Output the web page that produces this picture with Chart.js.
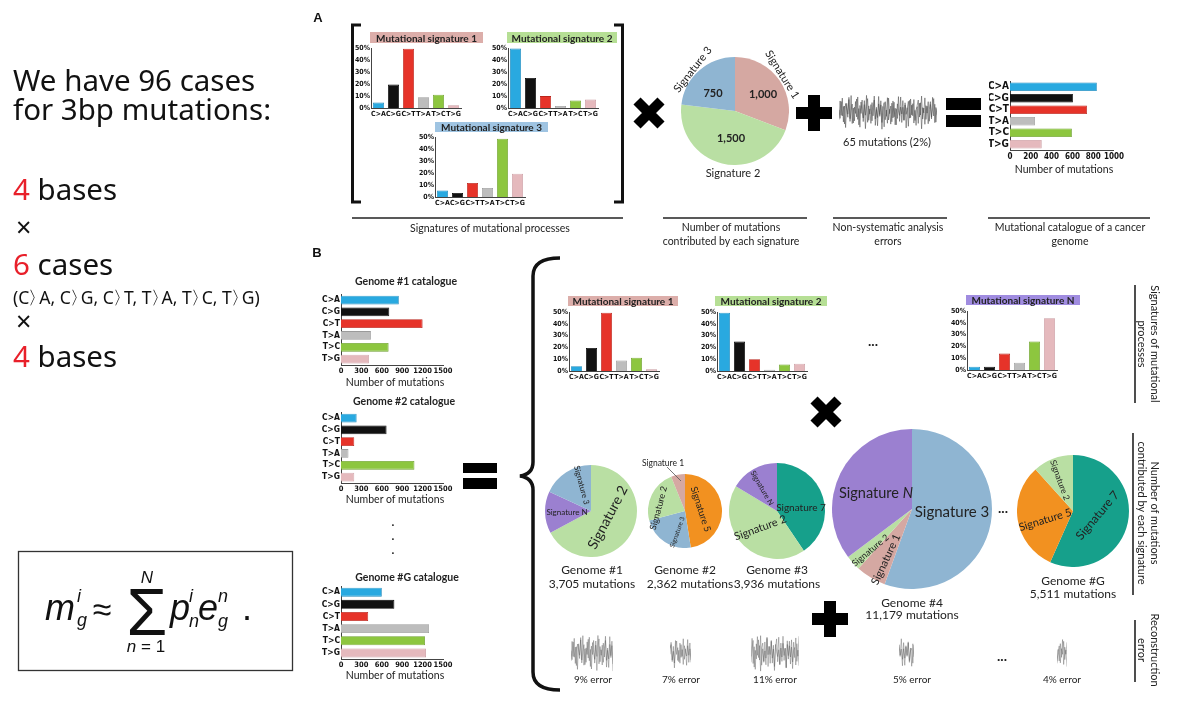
<!DOCTYPE html>
<html><head><meta charset="utf-8">
<script src="https://cdn.jsdelivr.net/npm/chart.js@4.4.1/dist/chart.umd.min.js"></script>
<style>
html,body{margin:0;padding:0;background:#fff;}
#stage{position:relative;width:1178px;height:707px;overflow:hidden;background:#fff;}
#stage canvas{position:absolute;}
#ov{position:absolute;left:0;top:0;width:1178px;height:707px;pointer-events:none;}
</style></head>
<body><div id="stage"></div>
<script>
// ---------------- DATA ----------------
const mutationTypes = ['C>A','C>G','C>T','T>A','T>C','T>G'];
const typeColors  = ['#29a9e0','#111111','#e63329','#bdbdbd','#8dc63f','#e5b9bd'];
const typeBorders = ['#1c88bb','#000000','#b8241c','#9a9a9a','#6b9e2b','#c99aa0'];
const percentTicks = ['0%','10%','20%','30%','40%','50%'];
const countTicksA = ['0','200','400','600','800','1000'];
const countTicksB = ['0','300','600','900','1200','1500'];

// Panel A signatures (% of mutations)
const sigA1 = [4.5, 19.5, 49.4, 9, 11, 2.3];
const sigA2 = [49.5, 25, 9.9, 1.7, 6.2, 7];
const sigA3 = [5.5, 3.3, 11.7, 7.5, 48.6, 19.4];
// Panel A exposures
const pieALabels = ['Signature 1','Signature 2','Signature 3'];
const pieAValues = [1000, 1500, 750];
// Panel A catalogue
const catalogueA = [835, 605, 740, 240, 595, 305];

// Panel B catalogues
const genome1Catalogue = [850, 710, 1200, 440, 700, 410];
const genome2Catalogue = [230, 670, 195, 110, 1080, 195];
const genomeGCatalogue = [600, 785, 400, 1295, 1235, 1250];

// Panel B signatures
const sigB1 = [4, 19.5, 49.4, 9, 11.3, 1.4];
const sigB2 = [49.4, 24.9, 9.9, 1.1, 5.6, 6.2];
const sigBN = [2.8, 2.8, 13.9, 6.1, 24.2, 43.9];

// Panel B exposures (clockwise from 12 o'clock)
const g1Labels = ['Signature 2','Signature N','Signature 3'];
const g1Values = [2490, 545, 670];
const g2Labels = ['Signature 5','Signature 3','Signature 2','Signature 1'];
const g2Values = [1122, 551, 545, 144];
const g3Labels = ['Signature 7','Signature 2','Signature N'];
const g3Values = [1596, 1694, 646];
const g4Labels = ['Signature 3','Signature 1','Signature 2','Signature N'];
const g4Values = [6211, 683, 342, 3943];
const gGLabels = ['Signature 7','Signature 5','Signature 2'];
const gGValues = [3123, 1745, 643];

// noise traces (read by eye, approximate)
const noiseA = [0.12,-0.35,0.58,-0.22,0.31,-0.66,0.47,0.18,-0.29,0.81,-0.52,0.09,0.44,-0.61,0.27,-0.08,0.72,-0.41,0.19,-0.84,0.55,0.02,-0.33,0.63,-0.18,0.92,-0.57,0.34,-0.12,0.41,-0.49,0.23,0.66,-0.74,0.14,-0.31,0.86,-0.24,0.39,-0.95,0.28,0.52,-0.43,0.11,-0.62,0.77,-0.09,0.33,-0.54,0.61,-0.27,0.21,-0.71,0.45,0.07,-0.19,0.83,-0.58,0.26,-0.44,0.51,-0.13,0.24,-0.79,0.64,-0.32,0.38,-0.21,0.69,-0.47,0.13,0.29,-0.63,0.49,-0.17,0.88,-0.39,0.22,-0.68,0.35,-0.06,0.57,-0.51,0.42,-0.28,0.16,0.74,-0.59,0.25,-0.15];
const noiseB = [-0.42,0.61,-0.18,0.77,-0.55,0.33,-0.86,0.48,-0.12,0.69,-0.37,0.91,-0.64,0.22,-0.49,0.58,-0.27,0.83,-0.71,0.36,-0.08,0.66,-0.53,0.41,-0.92,0.29,0.74,-0.46,0.17,-0.63,0.52,-0.21,0.88,-0.39,0.26,-0.76,0.45,-0.14,0.62,-0.58,0.31,-0.82,0.57,-0.24,0.79,-0.44,0.15,-0.67,0.49,-0.33,0.54,-0.71,0.18,-0.36,0.85,-0.52,0.27,-0.11,0.63,-0.47,0.39,-0.88,0.21,0.59,-0.34,0.72,-0.16,0.46,-0.61,0.09,-0.74,0.37,0.66,-0.28,0.51,-0.93,0.24,-0.05,0.78,-0.41,0.32,-0.65,0.14,0.57,-0.38,0.81,-0.22,0.43,-0.56,0.19];

const exposureColors = {
  'Signature 1':'#d5a8a2','Signature 2':'#b9dfa3','Signature 3':'#8fb5d2',
  'Signature 5':'#f29120','Signature 7':'#16a08b','Signature N':'#9b80d0'
};

// ---------------- HELPERS ----------------
const stage = document.getElementById('stage');
const NARROW = "'Liberation Sans Narrow','DejaVu Sans Condensed',sans-serif";
const ARIAL = "'Liberation Sans',Arial,sans-serif";
function canvasAt(x,y,w,h){
  const c=document.createElement('canvas');
  c.width=w;c.height=h;c.style.left=x+'px';c.style.top=y+'px';c.style.width=w+'px';c.style.height=h+'px';
  stage.appendChild(c);return c;
}
const baseOpts = {responsive:false,animation:false,events:[],plugins:{legend:{display:false},tooltip:{enabled:false}}};

function sigChart(values, axisX, top, bottom){
  const yW=17, xH=11, padT=6, padR=10, plotW=90, plotH=bottom-top;
  const c = canvasAt(axisX-yW, top-padT, yW+plotW+padR, padT+plotH+xH);
  new Chart(c,{type:'bar',
    data:{labels:mutationTypes,datasets:[{data:values,backgroundColor:typeColors,borderColor:typeBorders,borderWidth:0.8,barPercentage:0.74,categoryPercentage:1}]},
    options:{...baseOpts,layout:{padding:{top:padT,right:padR,left:0,bottom:0}},
      scales:{
        x:{grid:{display:false,drawTicks:false},border:{display:true,color:'#444',width:1},
           ticks:{autoSkip:false,maxRotation:0,minRotation:0,padding:2,color:'#111',font:{family:NARROW,size:7,weight:'bold'}},
           afterFit(s){s.height=xH;}},
        y:{min:0,max:50,grid:{display:false,drawTicks:false},border:{display:true,color:'#444',width:1},
           ticks:{autoSkip:false,stepSize:10,padding:1,color:'#111',font:{family:NARROW,size:7,weight:'bold'},callback:(v,i)=>percentTicks[i]},
           afterFit(s){s.width=yW;}}
      }}});
}

function catChart(values, axisX, top, bottom, plotW, max, step, tickLabels, fs, xfs, yW){
  const xH=12, padT=1, padR=12, plotH=bottom-top;
  const c = canvasAt(axisX-yW, top-padT, yW+plotW+padR, padT+plotH+xH);
  new Chart(c,{type:'bar',
    data:{labels:mutationTypes,datasets:[{data:values,backgroundColor:typeColors,borderColor:typeBorders,borderWidth:0.8,barPercentage:0.74,categoryPercentage:1}]},
    options:{...baseOpts,indexAxis:'y',layout:{padding:{top:padT,right:padR,left:0,bottom:0}},
      scales:{
        y:{grid:{display:false,drawTicks:false},border:{display:true,color:'#444',width:1},
           ticks:{autoSkip:false,padding:1,color:'#111',font:{family:NARROW,size:fs,weight:'bold'}},
           afterFit(s){s.width=yW;}},
        x:{min:0,max:max,grid:{display:false,drawTicks:false},border:{display:true,color:'#444',width:1},
           ticks:{autoSkip:false,maxRotation:0,minRotation:0,stepSize:step,padding:2,color:'#111',font:{family:NARROW,size:xfs,weight:'bold'},callback:(v,i)=>tickLabels[i]},
           afterFit(s){s.height=xH;}}
      }}});
}

function pieChart(labels, values, cx, cy, r){
  const c = canvasAt(cx-r, cy-r, 2*r, 2*r);
  new Chart(c,{type:'pie',
    data:{labels:labels,datasets:[{data:values,backgroundColor:labels.map(l=>exposureColors[l]),borderWidth:0}]},
    options:{...baseOpts,layout:{padding:0}}});
}

function noiseChart(traces, x, y, w, h, color, lw){
  const c = canvasAt(x,y,w,h);
  new Chart(c,{type:'line',
    data:{labels:traces[0].map((_,i)=>i),datasets:traces.map(t=>({data:t,borderColor:color,borderWidth:lw,pointRadius:0,tension:0}))},
    options:{...baseOpts,layout:{padding:0},scales:{x:{display:false},y:{display:false,min:-1.05,max:1.05}}}});
}

// ---------------- CHARTS ----------------
sigChart(sigA1, 371, 48, 108);
sigChart(sigA2, 508, 48, 108);
sigChart(sigA3, 435, 137, 197);
pieChart(pieALabels, pieAValues, 735, 111, 54);
noiseChart([noiseA, noiseB], 839, 93, 98, 38, 'rgba(70,70,70,0.75)', 0.7);
catChart(catalogueA, 1010, 75, 150, 104, 1000, 200, countTicksA, 10, 8, 21);

catChart(genome1Catalogue, 341, 289, 365, 102, 1500, 300, countTicksB, 8.5, 7.5, 19);
catChart(genome2Catalogue, 341, 407, 483, 102, 1500, 300, countTicksB, 8.5, 7.5, 19);
catChart(genomeGCatalogue, 341, 581, 659, 102, 1500, 300, countTicksB, 8.5, 7.5, 19);

sigChart(sigB1, 569, 312, 371);
sigChart(sigB2, 717, 312, 371);
sigChart(sigBN, 967, 311, 370);

pieChart(g1Labels, g1Values, 591, 511, 46);
pieChart(g2Labels, g2Values, 685, 511, 37);
pieChart(g3Labels, g3Values, 777, 511, 48);
pieChart(g4Labels, g4Values, 912, 509, 80);
pieChart(gGLabels, gGValues, 1073, 511, 56);

const nGrey='rgba(85,85,85,0.55)';
noiseChart([noiseA.slice(0,40), noiseB.slice(0,40)], 571, 633, 42, 40, nGrey, 0.7);
noiseChart([noiseA.slice(40,60), noiseB.slice(20,40)], 670, 636, 21, 34, nGrey, 0.7);
noiseChart([noiseA.slice(30,76), noiseB.slice(2,48)], 751, 633, 48, 40, nGrey, 0.7);
noiseChart([noiseA.slice(60,74), noiseB.slice(30,44)], 899, 636, 15, 34, nGrey, 0.7);
noiseChart([noiseA.slice(10,20), noiseB.slice(12,22)], 1057, 636, 10, 34, nGrey, 0.7);

// ---------------- OVERLAY (text & symbols) ----------------
const ANN = "Lato,'Open Sans',sans-serif";
let s = '';
function T(str, x, y, o={}){
  const tr = o.rot ? ` transform="rotate(${o.rot} ${x} ${y})"` : '';
  s += `<text x="${x}" y="${y}" text-anchor="${o.anchor||'middle'}" dominant-baseline="${o.base||'central'}" font-family="${o.family||ANN}" font-size="${o.size||11}" font-weight="${o.weight||'normal'}" font-style="${o.style||'normal'}" fill="${o.fill||'#222'}"${tr}>${str}</text>`;
}
function R(x,y,w,h,fill){ s += `<rect x="${x}" y="${y}" width="${w}" height="${h}" fill="${fill}"/>`; }
function L(x1,y1,x2,y2,w,c){ s += `<line x1="${x1}" y1="${y1}" x2="${x2}" y2="${y2}" stroke="${c||'#222'}" stroke-width="${w||1.5}"/>`; }
function cross(cx,cy){ const d=12; s += `<path d="M${cx-d} ${cy-d} L${cx+d} ${cy+d} M${cx+d} ${cy-d} L${cx-d} ${cy+d}" stroke="#000" stroke-width="10"/>`; }
function plus(cx,cy){ R(cx-18,cy-6,36,12,'#000'); R(cx-6,cy-18,12,36,'#000'); }

// Left text
const LF = "'Noto Sans','Open Sans',sans-serif";
T('We have 96 cases', 13, 79, {anchor:'start', size:29.5, family:LF, fill:'#111'});
T('for 3bp mutations:', 13, 108, {anchor:'start', size:29.5, family:LF, fill:'#111'});
T('<tspan fill="#e8202a">4</tspan> bases', 13, 188, {anchor:'start', size:29.5, family:LF, fill:'#111'});
T('×', 16, 226, {anchor:'start', size:27, family:LF, fill:'#111'});
T('<tspan fill="#e8202a">6</tspan> cases', 13, 263, {anchor:'start', size:29.5, family:LF, fill:'#111'});
const br = (a,b)=>`${a}<tspan dx="-1">〉</tspan><tspan dx="-7">${b}</tspan>`;
T(`(${br('C','A')}, ${br('C','G')}, ${br('C','T')}, ${br('T','A')}, ${br('T','C')}, ${br('T','G')})`, 13, 297, {anchor:'start', size:17.5, family:LF, fill:'#111'});
T('×', 16, 320, {anchor:'start', size:27, family:LF, fill:'#111'});
T('<tspan fill="#e8202a">4</tspan> bases', 13, 355, {anchor:'start', size:29.5, family:LF, fill:'#111'});

// Formula box
s += `<rect x="18.5" y="551.5" width="274" height="119" fill="none" stroke="#333" stroke-width="1.3"/>`;
function FB(str,x,y,size,italic,anchor){ T(str,x,y,{anchor:anchor||'start',base:'auto',size:size,family:ARIAL,style:italic?'italic':'normal',fill:'#111'}); }
FB('m',45,620,36,true); FB('i',77,602,18,true); FB('g',77,626,18,true);
FB('≈',102,621,34,false,'middle');
FB('Σ',147,635,66,false,'middle');
FB('N',147,583,17,true,'middle');
T('<tspan font-style="italic">n</tspan> = 1',146,652,{base:'auto',size:17,family:ARIAL,fill:'#111'});
FB('p',170,620,36,true); FB('i',189,602,18,true); FB('n',189,627,18,true);
FB('e',198,620,36,true); FB('n',218,602,18,true); FB('g',218,627,18,true);
FB('.',242,620,36,false);

// Panel A
T('A', 318, 17, {size:13, weight:'bold', family:ARIAL, fill:'#111'});
s += `<path d="M361 25 L352.5 25 L352.5 202 L361 202" fill="none" stroke="#111" stroke-width="3"/>`;
s += `<path d="M614 25 L622.5 25 L622.5 202 L614 202" fill="none" stroke="#111" stroke-width="3"/>`;
R(370,32,113,11,'#dcaeaa'); T('Mutational signature 1', 426.5, 37.5, {size:10, weight:'bold', fill:'#222'});
R(507,32,110,11,'#b6df95'); T('Mutational signature 2', 562, 37.5, {size:10, weight:'bold', fill:'#222'});
R(435,122,113,10,'#9fc4e2'); T('Mutational signature 3', 491.5, 127, {size:10, weight:'bold', fill:'#222'});
L(352,218,623,218,1.6);
T('Signatures of mutational processes', 490, 228, {size:10.5});
cross(649,113);
T('750', 713, 92, {size:11, weight:'bold'});
T('1,000', 763, 93, {size:11, weight:'bold'});
T('1,500', 731, 137, {size:11, weight:'bold'});
T('Signature 2', 733, 172, {size:11});
T('Signature 3', 692, 69, {size:11, rot:-52});
T('Signature 1', 783, 74, {size:11, rot:58});
plus(814,113);
T('65 mutations (2%)', 887, 141, {size:11});
R(946,98,35,12,'#000'); R(946,115,35,12,'#000');
T('Number of mutations', 1064, 169, {size:10.5});
L(663,218,807,218,1.6); L(833,218,947,218,1.6); L(988,218,1150,218,1.6);
T('Number of mutations', 731, 227, {size:10.5});
T('contributed by each signature', 731, 241, {size:10.5});
T('Non-systematic analysis', 888, 227, {size:10.5});
T('errors', 888, 241, {size:10.5});
T('Mutational catalogue of a cancer', 1070, 227, {size:10.5});
T('genome', 1070, 241, {size:10.5});

// Panel B
T('B', 317, 252, {size:13, weight:'bold', family:ARIAL, fill:'#111'});
T('Genome #1 catalogue', 406, 281, {size:10.5, weight:'bold'});
T('Number of mutations', 395, 382, {size:10.5});
T('Genome #2 catalogue', 404, 401, {size:10.5, weight:'bold'});
T('Number of mutations', 395, 499, {size:10.5});
T('.', 393, 521, {size:12, weight:'bold'}); T('.', 393, 535, {size:12, weight:'bold'}); T('.', 393, 549, {size:12, weight:'bold'});
T('Genome #G catalogue', 407, 577, {size:10.5, weight:'bold'});
T('Number of mutations', 395, 675, {size:10.5});
R(463,463,34,10,'#000'); R(463,478,34,11,'#000');
s += `<path d="M560 258 Q533 258 533 276 L533 462 Q533 474 520 476 Q533 478 533 490 L533 672 Q533 690 560 690" fill="none" stroke="#111" stroke-width="3.5"/>`;

R(568,296,110,10,'#dcaeaa'); T('Mutational signature 1', 623, 301, {size:10, weight:'bold'});
R(715,296,112,10,'#b6df95'); T('Mutational signature 2', 771, 301, {size:10, weight:'bold'});
R(966,295,114,10,'#a08ce0'); T('Mutational signature N', 1023, 300, {size:10, weight:'bold'});
T('...', 873, 340, {size:14, weight:'bold'});
cross(826,412);

// pie labels B
T('Signature 2', 607, 517, {size:14, rot:-62});
T('Signature N', 567, 512, {size:8});
T('Signature 3', 582, 485, {size:8, rot:75});
T('Signature 5', 701, 509, {size:9.5, rot:72});
T('Signature 2', 658, 508, {size:9, rot:-75});
T('Signature 3', 677, 532, {size:6.5, rot:-70});
T('Signature 1', 663, 463, {size:8.5});
L(667,467,681,481,0.8,'#555');
T('Signature 7', 801, 507, {size:10});
T('Signature 2', 760, 527, {size:11, rot:-20});
T('Signature N', 762, 488, {size:7.5, rot:60});
T('Signature <tspan font-style="italic">N</tspan>', 876, 492, {size:14.5});
T('Signature 3', 952, 511, {size:15});
T('Signature 2', 870, 550, {size:9, rot:-40});
T('Signature 1', 885, 559, {size:11, rot:-65});
T('Signature 7', 1097, 515, {size:12, rot:-50});
T('Signature 5', 1045, 519, {size:11, rot:-17});
T('Signature 2', 1060, 480, {size:8.5, rot:70});
T('...', 1003, 507, {size:14, weight:'bold'});

T('Genome #1', 592, 569, {size:12}); T('3,705 mutations', 592, 583, {size:12});
T('Genome #2', 685, 569, {size:12}); T('2,362 mutations', 690, 583, {size:12});
T('Genome #3', 777, 569, {size:12}); T('3,936 mutations', 777, 583, {size:12});
T('Genome #4', 912, 602, {size:12}); T('11,179 mutations', 912, 614, {size:12});
T('Genome #G', 1073, 580, {size:12}); T('5,511 mutations', 1073, 593, {size:12});

plus(830,619);
T('9% error', 593, 679, {size:10}); T('7% error', 681, 679, {size:10});
T('11% error', 775, 679, {size:10}); T('5% error', 912, 679, {size:10});
T('...', 1002, 655, {size:14, weight:'bold'}); T('4% error', 1062, 679, {size:10});

// right side labels
L(1135,285,1135,403,1.6);
T('Signatures of mutational', 1155, 344, {size:11, rot:90});
T('processes', 1142, 344, {size:11, rot:90});
L(1133,433,1133,595,1.6);
T('Number of mutations', 1155, 513, {size:11, rot:90});
T('contributed by each signature', 1142, 513, {size:11, rot:90});
L(1135,620,1135,682,1.6);
T('Reconstruction', 1155, 650, {size:11, rot:90});
T('error', 1142, 650, {size:11, rot:90});

const ov = document.createElementNS('http://www.w3.org/2000/svg','svg');
ov.setAttribute('id','ov'); ov.setAttribute('width','1178'); ov.setAttribute('height','707');
ov.innerHTML = s;
stage.appendChild(ov);
</script></body></html>
